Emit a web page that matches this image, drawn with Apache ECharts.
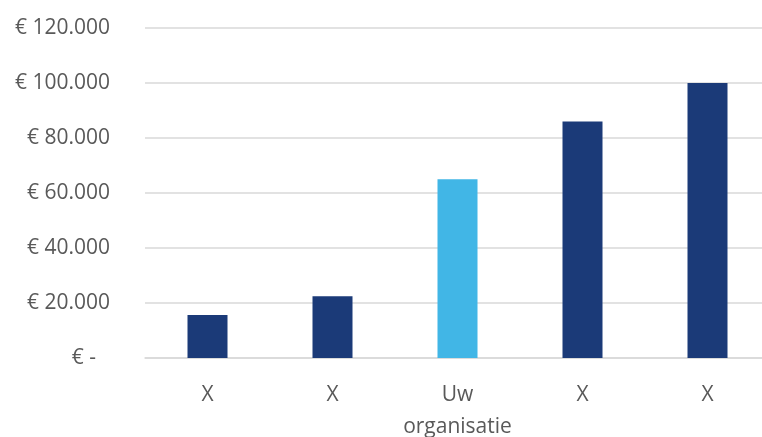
<!DOCTYPE html>
<html>
<head>
<meta charset="utf-8">
<script src="https://cdn.jsdelivr.net/npm/echarts@6/dist/echarts.min.js"></script>
<style>html,body{margin:0;padding:0;background:#fff}#c{width:762px;height:437px}</style>
</head>
<body>
<div id="c"></div>
<script>
var categories = ['X', 'X', 'Uw\norganisatie', 'X', 'X'];
var values = [15600, 22500, 65000, 86000, 100000];
var highlightIndex = 2;
var yTickValues = [0, 20000, 40000, 60000, 80000, 100000, 120000];
var yTickLabels = ['€ -', '€ 20.000', '€ 40.000', '€ 60.000', '€ 80.000', '€ 100.000', '€ 120.000'];

var chart = echarts.init(document.getElementById('c'), null, {renderer: 'canvas'});
var font = '"Open Sans", "Noto Sans", sans-serif';
chart.setOption({
  animation: false,
  grid: {left: 145, right: -8, top: 28, bottom: 79, containLabel: false, outerBoundsMode: 'none'},
  xAxis: {
    type: 'category',
    data: categories,
    axisLine: {show: true, lineStyle: {color: '#D9D9D9', width: 1.5}},
    axisTick: {show: false},
    axisLabel: {color: '#595959', fontSize: 21, fontFamily: font, margin: 21, lineHeight: 32, interval: 0, hideOverlap: false}
  },
  yAxis: {
    type: 'value',
    min: 0, max: 120000, interval: 20000,
    axisLine: {show: false},
    axisTick: {show: false},
    splitLine: {lineStyle: {color: '#D9D9D9', width: 1.5}},
    axisLabel: {
      color: '#595959', fontSize: 21, fontFamily: font, margin: 35,
      formatter: function (v) {
        var i = yTickValues.indexOf(v);
        var s = i >= 0 ? yTickLabels[i] : String(v);
        return v === 0 ? '{z|' + s + '}' : s;
      },
      rich: {z: {color: '#595959', fontSize: 21, fontFamily: font, padding: [0, 14, 0, 0]}}
    }
  },
  series: [{
    type: 'bar',
    barWidth: 40,
    data: values.map(function (v, i) {
      return {value: v, itemStyle: {color: i === highlightIndex ? '#41B6E6' : '#1B3A78'}};
    })
  }]
});
</script>
</body>
</html>
